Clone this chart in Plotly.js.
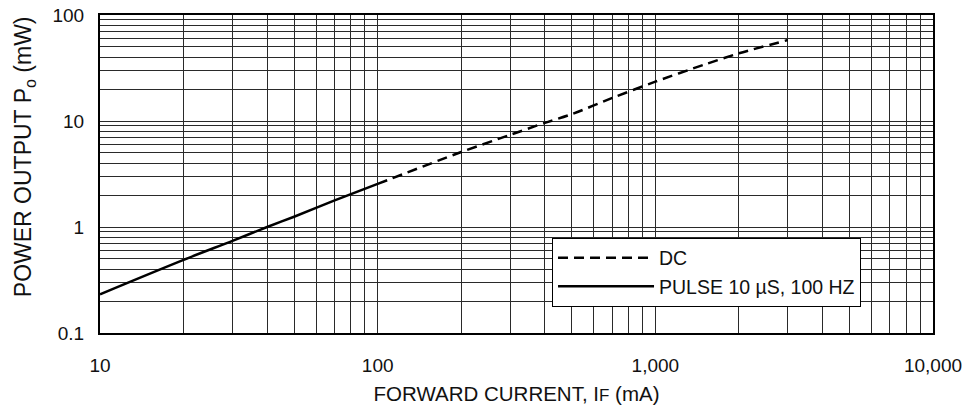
<!DOCTYPE html>
<html>
<head>
<meta charset="utf-8">
<script src="https://cdn.plot.ly/plotly-3.0.1.min.js"></script>
<style>html,body{margin:0;padding:0;background:#fff;}#chart{width:969px;height:409px;}</style>
</head>
<body>
<div id="chart"></div>
<script>
// Forward current (mA) and power output (mW)
const dcCurrent = [100, 200, 300, 400, 500, 700, 1000, 1500, 2000, 3000];
const dcPower   = [2.55, 5.1, 7.4, 9.6, 11.6, 16.5, 23.5, 34, 43.5, 58];
const pulseCurrent = [10, 20, 30, 40, 50, 70, 100];
const pulsePower   = [0.232, 0.49, 0.74, 1.0, 1.25, 1.78, 2.55];
const seriesNames = ['DC', 'PULSE 10 µS, 100 HZ'];
const xTickVals = [10, 100, 1000, 10000];
const xTickText = ['10', '100', '1,000', '10,000'];
const yTickVals = [0.1, 1, 10, 100];
const yTickText = ['0.1', '1', '10', '100'];
const xTitle = 'FORWARD CURRENT, I<span style="font-size:17px">F</span> (mA)';
const yTitle = 'POWER OUTPUT P<sub>o</sub> (mW)';

const FONT = 'Liberation Sans, Arial, Helvetica, sans-serif';
const traces = [
  {x: dcCurrent, y: dcPower, name: seriesNames[0], mode: 'lines', type: 'scatter',
   line: {color: '#000', width: 2.5, dash: '10px,6px', shape: 'spline', smoothing: 0.8}},
  {x: pulseCurrent, y: pulsePower, name: seriesNames[1], mode: 'lines', type: 'scatter',
   line: {color: '#000', width: 2.5, shape: 'spline', smoothing: 0.8}}
];
const gridCol = '#2a2a2a';
const layout = {
  width: 969, height: 409,
  margin: {l: 100, r: 36, t: 15, b: 76},
  paper_bgcolor: '#fff', plot_bgcolor: '#fff',
  font: {family: FONT, size: 19, color: '#111'},
  showlegend: true,
  legend: {x: 0.9136, xanchor: 'right', y: 0.30, yanchor: 'top',
    bgcolor: '#fff', bordercolor: '#000', borderwidth: 1,
    font: {family: FONT, size: 19.5, color: '#111'}, itemwidth: 96, tracegroupgap: 0},
  xaxis: {type: 'log', range: [1, 4],
    tickmode: 'array', tickvals: xTickVals, ticktext: xTickText,
    ticks: 'outside', ticklen: 14, tickcolor: 'rgba(0,0,0,0)',
    showgrid: true, gridcolor: gridCol, gridwidth: 1,
    minor: {dtick: 'D1', showgrid: true, gridcolor: gridCol, gridwidth: 1, ticks: ''},
    showline: true, mirror: true, linecolor: '#000', linewidth: 2, zeroline: false,
    title: {text: xTitle, font: {family: FONT, size: 20.5, color: '#111'}, standoff: 12}},
  yaxis: {type: 'log', range: [-1, 2],
    tickmode: 'array', tickvals: yTickVals, ticktext: yTickText,
    ticks: 'outside', ticklen: 10, tickcolor: 'rgba(0,0,0,0)',
    showgrid: true, gridcolor: gridCol, gridwidth: 1,
    minor: {dtick: 'D1', showgrid: true, gridcolor: gridCol, gridwidth: 1, ticks: ''},
    showline: true, mirror: true, linecolor: '#000', linewidth: 2, zeroline: false},
  annotations: [
    {text: yTitle, textangle: -90, showarrow: false,
     xref: 'paper', yref: 'paper', x: -0.0912, y: 0.553, xanchor: 'center', yanchor: 'middle',
     font: {family: FONT, size: 23, color: '#111'}}
  ]
};
Plotly.newPlot('chart', traces, layout, {staticPlot: true, displayModeBar: false});
</script>
</body>
</html>
